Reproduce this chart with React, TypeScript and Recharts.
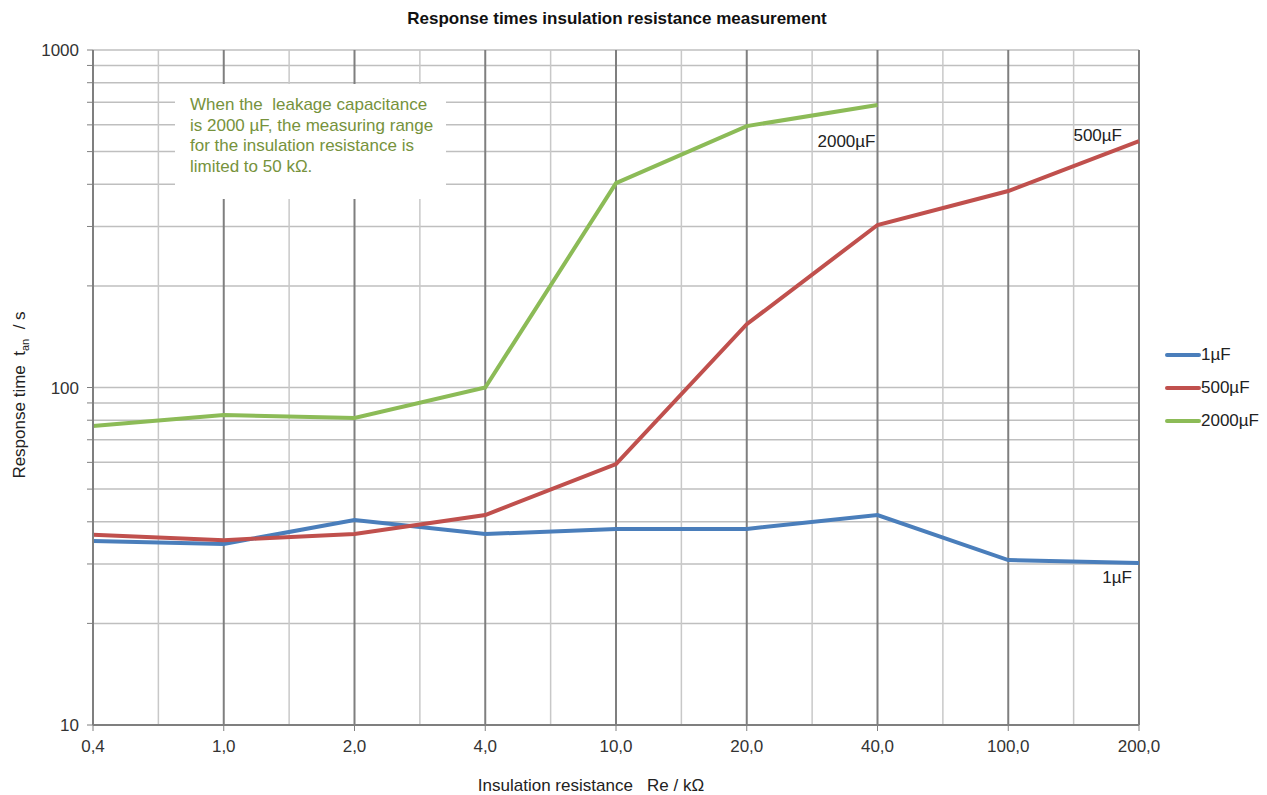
import React from "react";
import {
  LineChart, Line, XAxis, YAxis, CartesianGrid, ReferenceLine, LabelList,
} from "recharts";

const categories = ["0,4", "1,0", "2,0", "4,0", "10,0", "20,0", "40,0", "100,0", "200,0"];
const cap1 = [35.1, 34.4, 40.5, 36.8, 38.1, 38.1, 41.9, 30.8, 30.2];
const cap500 = [36.6, 35.3, 36.8, 41.9, 59.3, 154, 303, 382, 537];
const cap2000 = [76.9, 82.9, 81.2, 100, 403, 595, 687, null, null];
const yTicks = [10, 20, 30, 40, 50, 60, 70, 80, 90, 100, 200, 300, 400, 500, 600, 700, 800, 900, 1000];
const yLabels = [10, 100, 1000];

const series = [
  { key: "c1", name: "1µF", color: "#4a7ebb" },
  { key: "c500", name: "500µF", color: "#c0504d" },
  { key: "c2000", name: "2000µF", color: "#8cbb57" },
];

const data = categories.map((label, i) => ({
  idx: i, label, c1: cap1[i], c500: cap500[i], c2000: cap2000[i],
}));

const FONT = '"Liberation Sans", Arial, sans-serif';
const FS = 17;
const majorX = categories.map((_, i) => i).slice(1);
const minorX = categories.slice(1).map((_, i) => i + 0.5);

// label beside the last point of a series
const endLabel = (text: string, lastIdx: number, dx: number, dy: number) => (p: any) => {
  if (p.index !== lastIdx) return null;
  return (
    <text x={p.x + dx} y={p.y + dy} textAnchor="end" fontSize={FS} fill="#222" fontFamily={FONT}>
      {text}
    </text>
  );
};

export default function App() {
  return (
    <div style={{ position: "absolute", left: 0, top: 0, width: 1267, height: 795, background: "#fff", fontFamily: FONT }}>
      <LineChart width={1267} height={795} data={data} margin={{ top: 50, right: 128, bottom: 20, left: 33 }}>
        <CartesianGrid vertical={false} stroke="#bfbfbf" strokeWidth={1.5} />
        {minorX.map((x) => (
          <ReferenceLine key={"m" + x} x={x} stroke="#c8c8c8" strokeWidth={1.5} />
        ))}
        {majorX.map((x) => (
          <ReferenceLine key={"M" + x} x={x} stroke="#7f7f7f" strokeWidth={2} />
        ))}
        <XAxis
          dataKey="idx" type="number" domain={[0, 8]} ticks={categories.map((_, i) => i)} interval={0}
          tickFormatter={(v: number) => categories[v]} height={50} tickSize={6} tickMargin={9}
          axisLine={{ stroke: "#7f7f7f", strokeWidth: 2 }} tickLine={{ stroke: "#7f7f7f" }}
          tick={{ fill: "#333", fontSize: FS, fontFamily: FONT }}
          label={{
            content: () => (
              <text x={591} y={791} textAnchor="middle" fontSize={FS} fill="#222" fontFamily={FONT} style={{ whiteSpace: "pre" }}>
                {"Insulation resistance   Re / kΩ"}
              </text>
            ),
          }}
        />
        <YAxis
          type="number" scale="log" domain={[10, 1000]} ticks={yTicks} interval={0} allowDataOverflow
          tickFormatter={(v: number) => (yLabels.includes(v) ? String(v) : "")} width={60} tickSize={6} tickMargin={8}
          axisLine={{ stroke: "#7f7f7f", strokeWidth: 2 }} tickLine={{ stroke: "#7f7f7f" }}
          tick={{ fill: "#333", fontSize: FS, fontFamily: FONT }}
          label={{
            content: () => (
              <text transform="rotate(-90)" x={-395} y={25} textAnchor="middle" fontSize={FS} fill="#222" fontFamily={FONT} style={{ whiteSpace: "pre" }}>
                <tspan>{"Response time  t"}</tspan>
                <tspan fontSize={11} dy={4}>an</tspan>
                <tspan dy={-4}>{"  / s"}</tspan>
              </text>
            ),
          }}
        />
        <Line type="linear" dataKey="c1" name="1µF" stroke={series[0].color} strokeWidth={4} dot={false} isAnimationActive={false}>
          <LabelList dataKey="c1" content={endLabel("1µF", 8, -7, 20)} />
        </Line>
        <Line type="linear" dataKey="c500" name="500µF" stroke={series[1].color} strokeWidth={4} dot={false} isAnimationActive={false}>
          <LabelList dataKey="c500" content={endLabel("500µF", 8, -17, 0)} />
        </Line>
        <Line type="linear" dataKey="c2000" name="2000µF" stroke={series[2].color} strokeWidth={4} dot={false} isAnimationActive={false}>
          <LabelList dataKey="c2000" content={endLabel("2000µF", 6, -2, 42)} />
        </Line>
      </LineChart>
      <div style={{ position: "absolute", left: 1165, top: 338 }}>
        {series.map((s) => (
          <div key={s.key} style={{ display: "flex", alignItems: "center", height: 33 }}>
            <svg width={36} height={10}>
              <line x1={2} y1={5} x2={34} y2={5} stroke={s.color} strokeWidth={4} strokeLinecap="round" />
            </svg>
            <span style={{ fontSize: FS, color: "#222" }}>{s.name}</span>
          </div>
        ))}
      </div>
      <div style={{ position: "absolute", left: 0, top: 9, width: 1234, textAlign: "center", fontWeight: "bold", fontSize: FS, color: "#111" }}>
        Response times insulation resistance measurement
      </div>
      <div
        style={{
          position: "absolute", left: 175, top: 84, width: 256, height: 104, background: "#fff",
          color: "#76923c", fontSize: FS, lineHeight: "20.5px", paddingLeft: 15, paddingTop: 11, whiteSpace: "pre",
        }}
      >
        {"When the  leakage capacitance\nis 2000 µF, the measuring range\nfor the insulation resistance is\nlimited to 50 kΩ."}
      </div>
    </div>
  );
}
